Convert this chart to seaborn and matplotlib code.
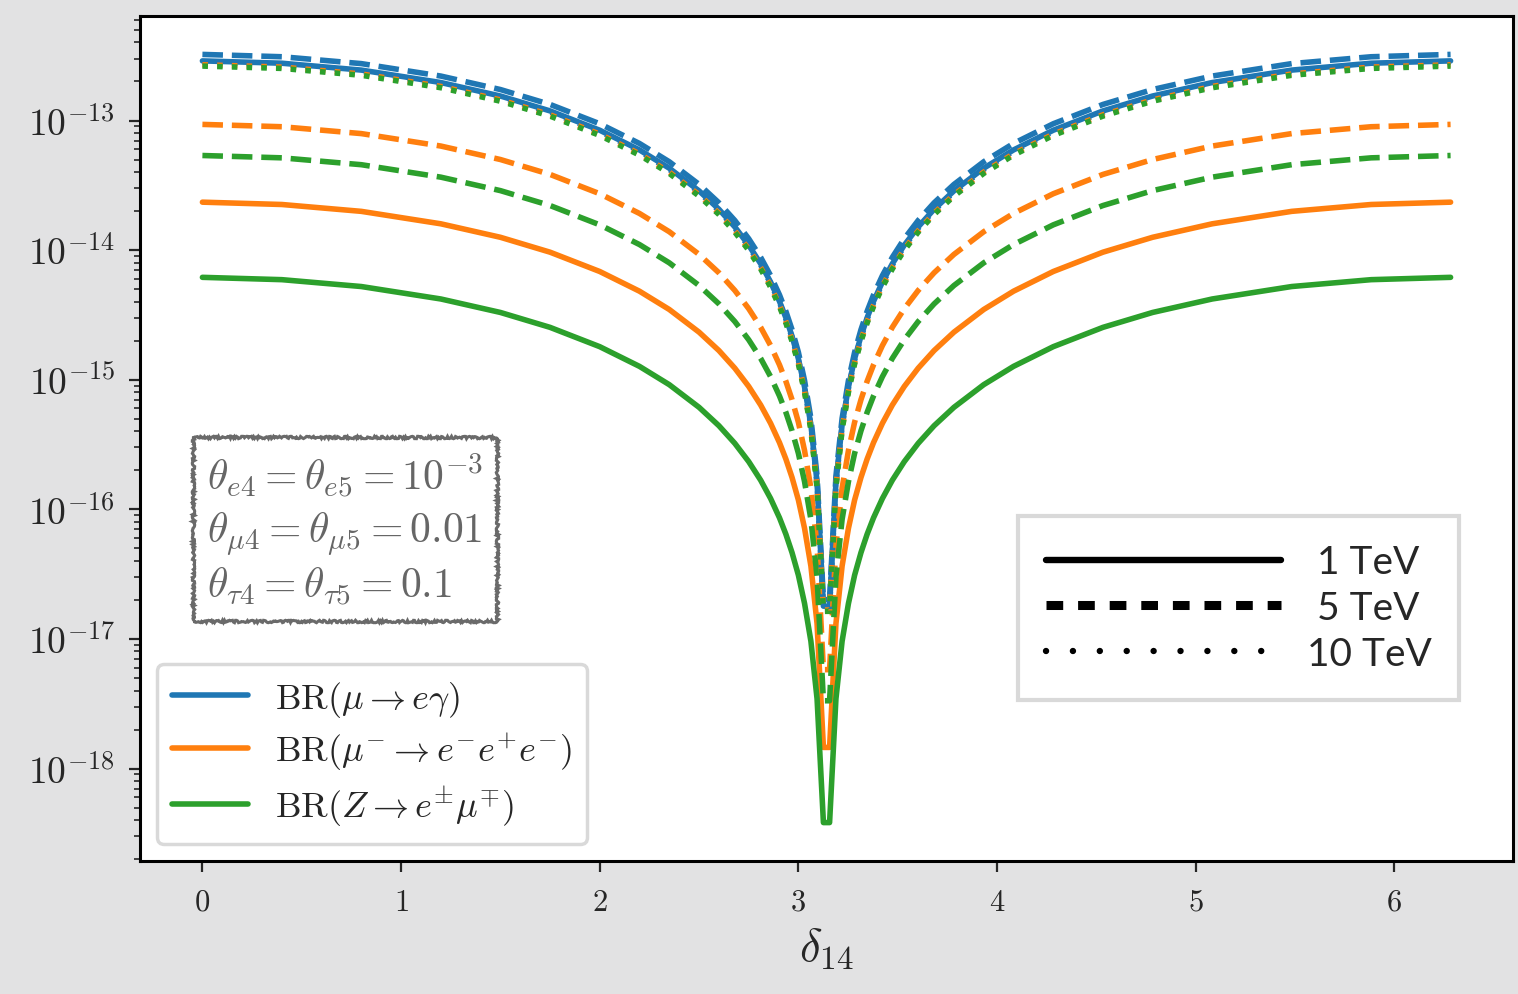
import numpy as np
import pandas as pd
import seaborn as sns
import matplotlib.pyplot as plt
from matplotlib.lines import Line2D
from matplotlib.ticker import FuncFormatter, FixedLocator

# ---------------- data ----------------
delta14 = [0.0, 0.4, 0.8, 1.2, 1.5, 1.75, 2.0, 2.2, 2.35, 2.5, 2.6, 2.68, 2.75, 2.81, 2.86,
           2.905, 2.937, 2.968, 3.0, 3.031, 3.063, 3.094, 3.126,
           3.157, 3.189, 3.220, 3.252, 3.283, 3.315, 3.346, 3.378, 3.423, 3.473, 3.533,
           3.603, 3.683, 3.783, 3.933, 4.083, 4.283, 4.533, 4.783, 5.083, 5.483, 5.883, 6.283]

# log10 of the branching ratios, mu -> e gamma
log_meg_1tev = [-12.540, -12.558, -12.611, -12.707, -12.811, -12.926, -13.075, -13.227, -13.368,
                -13.543, -13.685, -13.821, -13.962, -14.105, -14.246, -14.396, -14.522, -14.664,
                -14.838, -15.056, -15.348, -15.792, -16.747,
                -16.747, -15.792, -15.348, -15.056, -14.838, -14.664, -14.522, -14.396, -14.246,
                -14.105, -13.962, -13.821, -13.685, -13.543, -13.368, -13.227, -13.075, -12.926,
                -12.811, -12.707, -12.611, -12.558, -12.540]
log_meg_5tev = [-12.490, -12.508, -12.561, -12.657, -12.761, -12.876, -13.025, -13.177, -13.318,
                -13.493, -13.635, -13.771, -13.912, -14.055, -14.196, -14.346, -14.472, -14.614,
                -14.788, -15.006, -15.298, -15.742, -16.697,
                -16.697, -15.742, -15.298, -15.006, -14.788, -14.614, -14.472, -14.346, -14.196,
                -14.055, -13.912, -13.771, -13.635, -13.493, -13.318, -13.177, -13.025, -12.876,
                -12.761, -12.657, -12.561, -12.508, -12.490]
log_meg_10tev = [-12.550, -12.568, -12.621, -12.717, -12.821, -12.936, -13.085, -13.237, -13.378,
                 -13.553, -13.695, -13.831, -13.972, -14.115, -14.256, -14.406, -14.532, -14.674,
                 -14.848, -15.066, -15.358, -15.802, -16.757,
                 -16.757, -15.802, -15.358, -15.066, -14.848, -14.674, -14.532, -14.406, -14.256,
                 -14.115, -13.972, -13.831, -13.695, -13.553, -13.378, -13.237, -13.085, -12.936,
                 -12.821, -12.717, -12.621, -12.568, -12.550]
# mu- -> e- e+ e-
log_m3e_1tev = [-13.630, -13.648, -13.701, -13.797, -13.901, -14.016, -14.165, -14.317, -14.458,
                -14.633, -14.775, -14.911, -15.052, -15.195, -15.336, -15.486, -15.612, -15.754,
                -15.928, -16.146, -16.438, -16.882, -17.837,
                -17.837, -16.882, -16.438, -16.146, -15.928, -15.754, -15.612, -15.486, -15.336,
                -15.195, -15.052, -14.911, -14.775, -14.633, -14.458, -14.317, -14.165, -14.016,
                -13.901, -13.797, -13.701, -13.648, -13.630]
log_m3e_5tev = [-13.030, -13.048, -13.101, -13.197, -13.301, -13.416, -13.565, -13.717, -13.858,
                -14.033, -14.175, -14.311, -14.452, -14.595, -14.736, -14.886, -15.012, -15.154,
                -15.328, -15.546, -15.838, -16.282, -17.237,
                -17.237, -16.282, -15.838, -15.546, -15.328, -15.154, -15.012, -14.886, -14.736,
                -14.595, -14.452, -14.311, -14.175, -14.033, -13.858, -13.717, -13.565, -13.416,
                -13.301, -13.197, -13.101, -13.048, -13.030]
log_m3e_10tev = [-12.570, -12.588, -12.641, -12.737, -12.841, -12.956, -13.105, -13.257, -13.398,
                 -13.573, -13.715, -13.851, -13.992, -14.135, -14.276, -14.426, -14.552, -14.694,
                 -14.868, -15.086, -15.378, -15.822, -16.777,
                 -16.777, -15.822, -15.378, -15.086, -14.868, -14.694, -14.552, -14.426, -14.276,
                 -14.135, -13.992, -13.851, -13.715, -13.573, -13.398, -13.257, -13.105, -12.956,
                 -12.841, -12.737, -12.641, -12.588, -12.570]
# Z -> e mu
log_zem_1tev = [-14.210, -14.228, -14.281, -14.377, -14.481, -14.596, -14.745, -14.897, -15.038,
                -15.213, -15.355, -15.491, -15.632, -15.775, -15.916, -16.066, -16.192, -16.334,
                -16.508, -16.726, -17.018, -17.462, -18.417,
                -18.417, -17.462, -17.018, -16.726, -16.508, -16.334, -16.192, -16.066, -15.916,
                -15.775, -15.632, -15.491, -15.355, -15.213, -15.038, -14.897, -14.745, -14.596,
                -14.481, -14.377, -14.281, -14.228, -14.210]
log_zem_5tev = [-13.270, -13.288, -13.341, -13.437, -13.541, -13.656, -13.805, -13.957, -14.098,
                -14.273, -14.415, -14.551, -14.692, -14.835, -14.976, -15.126, -15.252, -15.394,
                -15.568, -15.786, -16.078, -16.522, -17.477,
                -17.477, -16.522, -16.078, -15.786, -15.568, -15.394, -15.252, -15.126, -14.976,
                -14.835, -14.692, -14.551, -14.415, -14.273, -14.098, -13.957, -13.805, -13.656,
                -13.541, -13.437, -13.341, -13.288, -13.270]
log_zem_10tev = [-12.580, -12.598, -12.651, -12.747, -12.851, -12.966, -13.115, -13.267, -13.408,
                 -13.583, -13.725, -13.861, -14.002, -14.145, -14.286, -14.436, -14.562, -14.704,
                 -14.878, -15.096, -15.388, -15.832, -16.787,
                 -16.787, -15.832, -15.388, -15.096, -14.878, -14.704, -14.562, -14.436, -14.286,
                 -14.145, -14.002, -13.861, -13.725, -13.583, -13.408, -13.267, -13.115, -12.966,
                 -12.851, -12.747, -12.651, -12.598, -12.580]

processes = ["meg", "m3e", "zem"]
process_labels = [r"$\mathrm{BR}(\mu \to e\gamma)$",
                  r"$\mathrm{BR}(\mu^{-} \to e^{-}e^{+}e^{-})$",
                  r"$\mathrm{BR}(Z \to e^{\pm}\mu^{\mp})$"]
masses = ["1 TeV", "5 TeV", "10 TeV"]
mass_labels = [" 1 TeV", " 5 TeV", "10 TeV"]
series = {
    ("meg", "1 TeV"): log_meg_1tev, ("m3e", "1 TeV"): log_m3e_1tev, ("zem", "1 TeV"): log_zem_1tev,
    ("meg", "5 TeV"): log_meg_5tev, ("m3e", "5 TeV"): log_m3e_5tev, ("zem", "5 TeV"): log_zem_5tev,
    ("meg", "10 TeV"): log_meg_10tev, ("m3e", "10 TeV"): log_m3e_10tev, ("zem", "10 TeV"): log_zem_10tev,
}
param_text = "\n".join([r"$\theta_{e4} = \theta_{e5} = 10^{-3}$",
                        r"$\theta_{\mu4} = \theta_{\mu5} = 0.01$",
                        r"$\theta_{\tau4} = \theta_{\tau5} = 0.1$"])
y_major = [1e-18, 1e-17, 1e-16, 1e-15, 1e-14, 1e-13]
x_major = [0, 1, 2, 3, 4, 5, 6]

# ---------------- style ----------------
colors = {"meg": "#1f77b4", "m3e": "#ff7f0e", "zem": "#2ca02c"}
styles = {"1 TeV": "-", "5 TeV": "--", "10 TeV": ":"}

sns.set_style("ticks")
plt.rcParams["font.family"] = ["DejaVu Serif"]
plt.rcParams["mathtext.fontset"] = "cm"

fig = plt.figure(figsize=(15.18, 9.95), dpi=100, facecolor="#e2e2e3")
ax = fig.add_axes([140 / 1518, 1 - 862 / 995, 1373 / 1518, 845 / 995])
ax.set_facecolor("white")

rows = []
for m in masses:
    for p in processes:
        for d, v in zip(delta14, series[(p, m)]):
            rows.append({"delta": d, "br": 10.0 ** v, "process": p, "mass": m})
df = pd.DataFrame(rows)

for m in masses:
    for p in processes:
        sub = df[(df["process"] == p) & (df["mass"] == m)]
        sns.lineplot(data=sub, x="delta", y="br", ax=ax, color=colors[p],
                     linestyle=styles[m], linewidth=4.0, legend=False,
                     estimator=None, sort=False)

ax.set_yscale("log")
ax.yaxis.set_major_locator(FixedLocator(y_major))
ax.set_xticks(x_major)
ax.xaxis.set_major_formatter(FuncFormatter(lambda v, pos: r"$%d$" % round(v)))
ax.yaxis.set_major_formatter(FuncFormatter(lambda v, pos: r"$10^{%d}$" % round(np.log10(v))))
ax.set_xlabel(r"$\delta_{14}$", fontsize=34, labelpad=6)
ax.set_ylabel("")
ax.tick_params(axis="both", which="major", length=8, width=1.6, direction="out", pad=10)
ax.tick_params(axis="x", which="major", labelsize=22)
ax.tick_params(axis="y", which="major", labelsize=27, pad=10)
ax.tick_params(axis="y", which="minor", length=4, width=1.2)
for s in ax.spines.values():
    s.set_linewidth(2.2)
    s.set_color("black")

# parameter box
t = ax.text(0.0488, 0.486, param_text, transform=ax.transAxes, ha="left", va="top",
            fontsize=30, color="#666666", linespacing=1.27,
            bbox=dict(boxstyle="square,pad=0.33", fc="white", ec="#6a6a6a", lw=2.2))
t.get_bbox_patch().set_sketch_params(scale=1.2, length=3, randomness=8)

# process legend
proc_handles = [Line2D([], [], color=colors[p], lw=4) for p in processes]
leg1 = ax.legend(proc_handles, process_labels, loc="lower left", bbox_to_anchor=(0.0124, 0.02),
                 borderaxespad=0, fontsize=26, frameon=True, fancybox=True,
                 handlelength=2.1, labelspacing=0.32, handletextpad=0.75, borderpad=0.42)
leg1.get_frame().set_edgecolor("#d0d0d0")
leg1.get_frame().set_linewidth(2.5)
ax.add_artist(leg1)

# mass legend
mass_handles = [
    Line2D([], [], color="black", lw=4.6, linestyle="-"),
    Line2D([], [], color="black", lw=6.5, linestyle=(0, (1.85, 1.65))),
    Line2D([], [], color="black", lw=4.6, linestyle=(0, (0.01, 4.2)), dash_capstyle="round"),
]
leg2 = ax.legend(mass_handles, mass_labels, loc="upper left", bbox_to_anchor=(0.6395, 0.408),
                 borderaxespad=0, frameon=True, fancybox=False, handlelength=6.05,
                 labelspacing=0.25, handletextpad=0.65, borderpad=0.72,
                 prop={"family": "Lato", "size": 28})
leg2.get_frame().set_edgecolor("#d0d0d0")
leg2.get_frame().set_linewidth(3)

fig.savefig("out.png", dpi=100, facecolor=fig.get_facecolor())
